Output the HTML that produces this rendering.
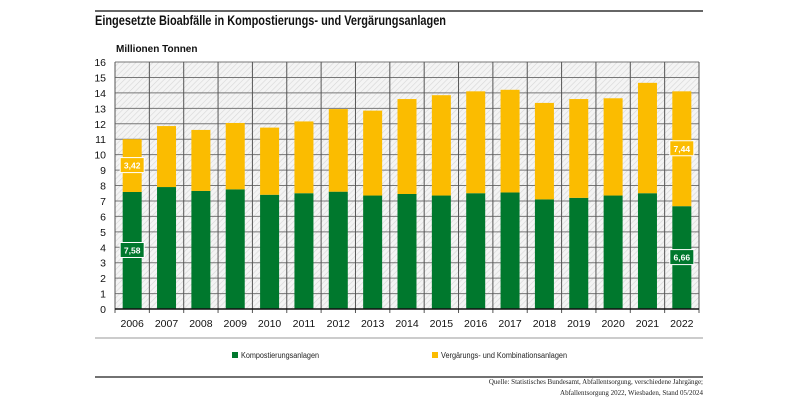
<!DOCTYPE html>
<html><head><meta charset="utf-8"><style>
body{margin:0;background:#fff;font-family:"Liberation Sans","DejaVu Sans",sans-serif}
#c{position:relative;width:800px;height:400px}
</style></head><body>
<div id="c">
<svg id="s" width="800" height="400" xmlns="http://www.w3.org/2000/svg">
<defs><pattern id="h" width="4" height="4" patternUnits="userSpaceOnUse" patternTransform="rotate(45)"><rect width="4" height="4" fill="#f4f4f4"/><line x1="0" y1="0" x2="0" y2="4" stroke="#d6d6d6" stroke-width="1.2"/></pattern></defs>
<line x1="95" y1="11" x2="703" y2="11" stroke="#333" stroke-width="1.5"/>
<text x="95" y="25" font-size="14" font-weight="bold" fill="#111" textLength="351" lengthAdjust="spacingAndGlyphs">Eingesetzte Bioabfälle in Kompostierungs- und Vergärungsanlagen</text>
<text x="116" y="52" font-size="10" font-weight="bold" fill="#111">Millionen Tonnen</text>
<g id="g"></g>
<line x1="95" y1="338" x2="703" y2="338" stroke="#999" stroke-width="1"/>
<rect x="232" y="352" width="6" height="6" fill="#00782d"/>
<text x="241" y="358" font-size="8" fill="#222" textLength="78" lengthAdjust="spacingAndGlyphs">Kompostierungsanlagen</text>
<rect x="432" y="352" width="6" height="6" fill="#fbbc00"/>
<text x="441" y="358" font-size="8" fill="#222" textLength="126" lengthAdjust="spacingAndGlyphs">Vergärungs- und Kombinationsanlagen</text>
<line x1="95" y1="377" x2="703" y2="377" stroke="#444" stroke-width="1.5"/>
<text x="703" y="384" font-size="7" text-anchor="end" font-family="Liberation Serif,serif" fill="#222">Quelle: Statistisches Bundesamt, Abfallentsorgung, verschiedene Jahrgänge;</text>
<text x="703" y="395" font-size="7" text-anchor="end" font-family="Liberation Serif,serif" fill="#222">Abfallentsorgung 2022, Wiesbaden, Stand 05/2024</text>
</svg></div>
<script>
const years=["2006","2007","2008","2009","2010","2011","2012","2013","2014","2015","2016","2017","2018","2019","2020","2021","2022"];
const kompost=[7.58,7.9,7.65,7.75,7.4,7.5,7.6,7.35,7.45,7.35,7.5,7.55,7.1,7.2,7.35,7.5,6.66];
const vergaerung=[3.42,3.95,3.95,4.3,4.35,4.65,5.35,5.5,6.15,6.5,6.6,6.65,6.25,6.4,6.3,7.15,7.44];
const yTicks=[0,1,2,3,4,5,6,7,8,9,10,11,12,13,14,15,16];
const X0=115,X1=699,Y0=309,Y1=62,YMAX=16;
const NS="http://www.w3.org/2000/svg";
const g=document.getElementById('g');
const slot=(X1-X0)/years.length;
const y=v=>Y0-(v/YMAX)*(Y0-Y1);
const xc=i=>X0+slot*(i+0.5);
function mk(t,a){const e=document.createElementNS(NS,t);for(const k in a)e.setAttribute(k,a[k]);g.appendChild(e);return e;}
const bg=mk('rect',{x:X0,y:Y1,width:X1-X0,height:Y0-Y1,fill:'url(#h)'});


yTicks.forEach(t=>{
 const l=mk('line',{x1:X0,x2:X1,y1:y(t),y2:y(t),stroke:'#777','stroke-width':1});
 
 
 const tx=mk('text',{x:106,y:y(t)+4,'font-size':10.5,'text-anchor':'end',fill:'#111'});
 tx.textContent=t;
 
 
});
for(let i=0;i<=years.length;i++){
 const x=X0+slot*i;
 const l=mk('line',{x1:x,x2:x,y1:Y1,y2:Y0+4,stroke:'#555','stroke-width':1});
 
 
}
const bw=19;
years.forEach((yr,i)=>{
 const gb=mk('rect',{x:xc(i)-bw/2,y:y(kompost[i]),width:bw,height:Y0-y(kompost[i]),fill:'#00782d'});
 
 
 const tot=kompost[i]+vergaerung[i];
 const yb=mk('rect',{x:xc(i)-bw/2,y:y(tot),width:bw,height:y(kompost[i])-y(tot),fill:'#fbbc00'});
 
 
 const tx=mk('text',{x:xc(i),y:327,'font-size':10.5,'text-anchor':'middle',fill:'#111'});
 tx.textContent=yr;
 
 
});
const ax=mk('line',{x1:X0,x2:X1,y1:Y0,y2:Y0,stroke:'#111','stroke-width':1.5});


function lab(i,val,cy,col){
 const r=mk('rect',{x:xc(i)-12,y:cy-8,width:24,height:15,fill:col,stroke:'#fff','stroke-width':1});
 
 
 const t=mk('text',{x:xc(i),y:cy+3,'font-size':8.5,'font-weight':'bold','text-anchor':'middle',fill:'#fff'});
 t.textContent=val.toFixed(2).replace('.',',');
 
 
}
const L=years.length-1;
lab(0,kompost[0],y(kompost[0]/2),'#00782d');
lab(0,vergaerung[0],y(kompost[0]+vergaerung[0]/2),'#fbbc00');
lab(L,kompost[L],y(kompost[L]/2),'#00782d');
lab(L,vergaerung[L],y(kompost[L]+vergaerung[L]/2),'#fbbc00');
</script>
</body></html>
